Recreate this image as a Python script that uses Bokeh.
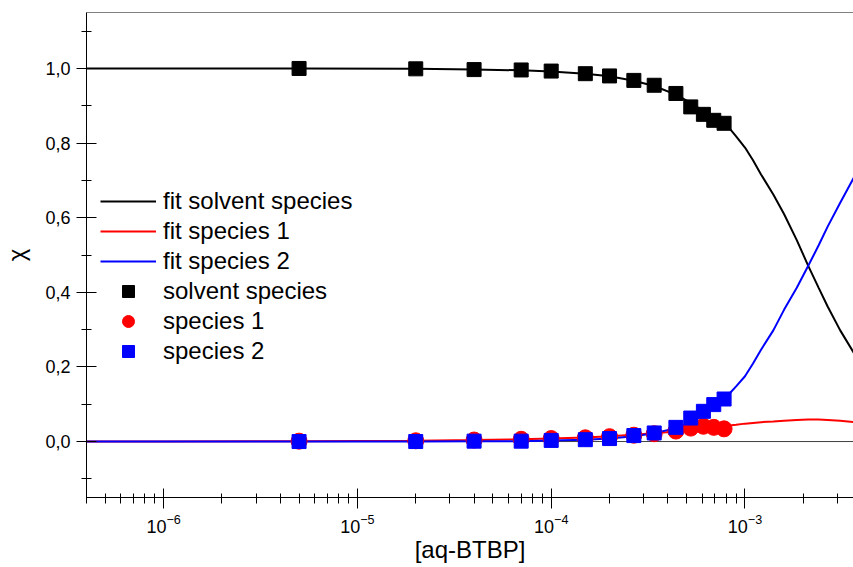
from bokeh.plotting import figure
from bokeh.models import LogAxis, FixedTicker, CustomJSTickFormatter, Span, Range1d
from bokeh.embed import file_html
from bokeh.resources import INLINE

# measured points
conc = [5e-6, 2e-5, 4e-5, 7e-5, 1e-4, 1.5e-4, 2e-4, 2.67e-4, 3.4e-4, 4.4e-4,
        5.25e-4, 6.1e-4, 6.9e-4, 7.8e-4]
solvent = [1.0, 0.999, 0.997, 0.996, 0.993, 0.986, 0.980, 0.968, 0.955, 0.933,
           0.897, 0.877, 0.861, 0.853]
species1 = [0.001, 0.002, 0.004, 0.006, 0.008, 0.010, 0.013, 0.017, 0.021, 0.028,
            0.036, 0.041, 0.038, 0.034]
species2 = [0.0, 0.0, 0.001, 0.001, 0.003, 0.005, 0.008, 0.016, 0.023, 0.038,
            0.063, 0.081, 0.099, 0.114]

# fit curves
fit_x = [4e-7, 1e-6, 5e-6, 2e-5, 4e-5, 7e-5, 1e-4, 1.5e-4, 2e-4, 2.67e-4, 3.4e-4,
         4.4e-4, 5.25e-4, 6.1e-4, 6.9e-4, 7.8e-4, 8.3e-4, 9e-4, 1e-3, 1.1e-3, 1.21e-3,
         1.4e-3, 1.59e-3, 1.85e-3, 2.12e-3, 2.4e-3, 2.67e-3, 3.1e-3, 3.7e-3]
fit_solvent = [1.0, 1.0, 1.0, 0.999, 0.997, 0.995, 0.992, 0.986, 0.979, 0.967, 0.953,
               0.930, 0.908, 0.885, 0.866, 0.851, 0.840, 0.818, 0.788, 0.754, 0.716,
               0.662, 0.610, 0.540, 0.471, 0.412, 0.362, 0.298, 0.232]
fit_species1 = [0.0, 0.0002, 0.001, 0.002, 0.004, 0.006, 0.008, 0.011, 0.014, 0.018, 0.022,
                0.027, 0.031, 0.035, 0.038, 0.041, 0.043, 0.045, 0.048, 0.050, 0.052,
                0.054, 0.056, 0.058, 0.059, 0.059, 0.058, 0.056, 0.052]
fit_species2 = [0.0, 0.0, 0.0, 0.0, 0.001, 0.001, 0.003, 0.005, 0.008, 0.014, 0.022,
                0.036, 0.052, 0.070, 0.090, 0.114, 0.128, 0.148, 0.175, 0.209, 0.246,
                0.298, 0.353, 0.412, 0.471, 0.526, 0.576, 0.640, 0.714]

y_major = [0.0, 0.2, 0.4, 0.6, 0.8, 1.0]
y_minor = [-0.1, 0.1, 0.3, 0.5, 0.7, 0.9, 1.1]

FONT = "Liberation Sans"

p = figure(width=853, height=567, x_axis_type="log",
           x_range=Range1d(4e-7, 3.63e-3), y_range=Range1d(-0.15, 1.15),
           output_backend="svg", toolbar_location=None,
           min_border_left=86, min_border_right=0, min_border_top=12,
           min_border_bottom=70)
p.grid.visible = False
p.outline_line_color = None
p.background_fill_color = "white"
p.border_fill_color = "white"

p.add_layout(Span(location=0, dimension="width", line_color="#404040",
                  line_width=1, level="underlay"))

p.line(fit_x, fit_solvent, line_color="black", line_width=2,
       legend_label="fit solvent species")
p.line(fit_x, fit_species1, line_color="#ff0000", line_width=2,
       legend_label="fit species 1")
p.line(fit_x, fit_species2, line_color="#0000ff", line_width=2,
       legend_label="fit species 2")
p.scatter(conc, solvent, marker="square", size=14, color="black",
          legend_label="solvent species")
p.scatter(conc, species1, marker="circle", size=16, color="#ff0000",
          legend_label="species 1")
p.scatter(conc, species2, marker="square", size=14, color="#0000ff",
          legend_label="species 2")

# x axis
xa = p.xaxis[0]
xa.axis_label = "[aq-BTBP]"
xa.axis_label_text_font = FONT
xa.axis_label_text_font_size = "24px"
xa.axis_label_text_font_style = "normal"
xa.axis_label_text_color = "black"
xa.axis_label_standoff = 0
xa.major_label_text_font = FONT
xa.major_label_text_font_size = "18px"
xa.major_label_text_color = "black"
xa.major_label_standoff = 5
xa.major_tick_in = 9
xa.major_tick_out = 11
xa.minor_tick_in = 4
xa.minor_tick_out = 6
xa.axis_line_color = "black"
xa.major_tick_line_color = "black"
xa.minor_tick_line_color = "black"

# y axis
ya = p.yaxis[0]
ya.ticker = FixedTicker(ticks=y_major, minor_ticks=y_minor)
ya.formatter = CustomJSTickFormatter(code="return tick.toFixed(1).replace('.', ',');")
ya.axis_label = "χ"
ya.axis_label_text_font = FONT
ya.axis_label_text_font_size = "24px"
ya.axis_label_text_font_style = "normal"
ya.axis_label_text_color = "black"
ya.axis_label_standoff = 12
ya.major_label_text_font = FONT
ya.major_label_text_font_size = "18px"
ya.major_label_text_color = "black"
ya.major_label_standoff = 6
ya.major_tick_in = 10
ya.major_tick_out = 10
ya.minor_tick_in = 5
ya.minor_tick_out = 5
ya.axis_line_color = "black"
ya.major_tick_line_color = "black"
ya.minor_tick_line_color = "black"

# top frame line
top = LogAxis(ticker=FixedTicker(ticks=[]), axis_line_color="#808080",
              major_tick_line_color=None, minor_tick_line_color=None,
              major_tick_out=0, minor_tick_out=0, major_label_standoff=0)
p.add_layout(top, "above")

leg = p.legend[0]
leg.location = (14, 131)
leg.border_line_color = None
leg.background_fill_alpha = 0
leg.padding = 0
leg.margin = 0
leg.spacing = 0
leg.glyph_width = 56
leg.glyph_height = 30
leg.label_height = 30
leg.label_standoff = 7
leg.label_text_font = FONT
leg.label_text_font_size = "24px"
leg.label_text_color = "black"

open("out.html", "w").write(file_html(p, INLINE))
